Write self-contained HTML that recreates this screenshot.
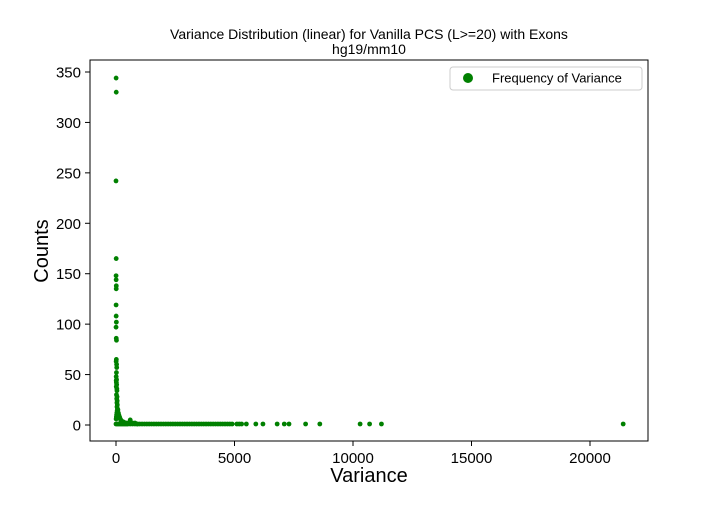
<!DOCTYPE html>
<html><head><meta charset="utf-8"><style>
body{margin:0;background:#fff;font-family:"Liberation Sans",sans-serif}
</style></head><body>
<svg id="chart" width="720" height="504" xmlns="http://www.w3.org/2000/svg" font-family="Liberation Sans, sans-serif">
<rect width="720" height="504" fill="#fff"/>
<text x="369" y="39" text-anchor="middle" font-size="14">Variance Distribution (linear) for Vanilla PCS (L&gt;=20) with Exons</text>
<text x="369" y="54" text-anchor="middle" font-size="14">hg19/mm10</text>
<g id="marks"></g>
<rect x="90" y="60" width="558" height="381" fill="none" stroke="#000" stroke-width="1"/>
<g id="xticks"></g><g id="yticks"></g>
<text x="369" y="482" text-anchor="middle" font-size="20">Variance</text>
<text transform="translate(48,251) rotate(-90)" text-anchor="middle" font-size="20">Counts</text>
<g>
<rect x="450" y="67" width="192" height="23" rx="3" fill="#fff" stroke="#ccc"/>
<circle cx="468" cy="78" r="5" fill="#008000"/>
<text x="492" y="82.5" font-size="13">Frequency of Variance</text>
</g>
</svg>
<script>
const spikeX=[5,10,0,8,3,6,12,9,4,7,15,2,11,20,14,6,25,30,18,8,22,10,16,28,12,35,40,20,45,30,50,38,55,42,60,48,35,25,15,5];
const spikeY=[344,330,242,165,148,144,138,135,119,108,102,97,86,84,65,63,60,57,52,48,45,44,42,40,38,36,34,30,28,26,24,22,20,18,16,14,12,10,8,6];
const tailX=[80,100,120,150,180,200,240,280,320,380,450,520,600,700,800,900];
const tailY=[15,12,10,8,6,5,4,3,3,2,2,2,5,2,2,1];
const oneX=[0,50,100,150,200,250,300,350,400,450,500,600,700,800,900,1000,1100,1200,1300,1400,1500,1600,1700,1800,1900,2000,2100,2200,2300,2400,2500,2600,2700,2800,2900,3000,3100,3200,3300,3400,3500,3600,3700,3800,3900,4000,4100,4200,4300,4400,4500,4600,4700,4800,4900,5100,5200,5300,5500,5900,6200,6800,7100,7300,8000,8600,10300,10700,11200,21400];
const xTicks=[0,5000,10000,15000,20000];
const yTicks=[0,50,100,150,200,250,300,350];
const xs=v=>116+v*474/20000, ys=v=>425-v*353/350;
const NS="http://www.w3.org/2000/svg";
const marks=document.getElementById('marks');
function dot(x,y){const c=document.createElementNS(NS,'circle');c.setAttribute('cx',xs(x));c.setAttribute('cy',ys(y));c.setAttribute('r',2.4);c.setAttribute('fill','#008000');


marks.appendChild(c);}
oneX.forEach(x=>dot(x,1));
tailX.forEach((x,i)=>dot(x,tailY[i]));
spikeX.forEach((x,i)=>dot(x,spikeY[i]));
const xt=document.getElementById('xticks');
xTicks.forEach(v=>{const l=document.createElementNS(NS,'line');l.setAttribute('x1',xs(v));l.setAttribute('x2',xs(v));l.setAttribute('y1',441);l.setAttribute('y2',446);l.setAttribute('stroke','#000');


xt.appendChild(l);
const t=document.createElementNS(NS,'text');t.setAttribute('x',xs(v));t.setAttribute('y',463);t.setAttribute('text-anchor','middle');t.setAttribute('font-size','15');t.textContent=v;


xt.appendChild(t);});
const yt=document.getElementById('yticks');
yTicks.forEach(v=>{const l=document.createElementNS(NS,'line');l.setAttribute('x1',85);l.setAttribute('x2',90);l.setAttribute('y1',ys(v));l.setAttribute('y2',ys(v));l.setAttribute('stroke','#000');


yt.appendChild(l);
const t=document.createElementNS(NS,'text');t.setAttribute('x',81);t.setAttribute('y',ys(v)+5.5);t.setAttribute('text-anchor','end');t.setAttribute('font-size','15');t.textContent=v;


yt.appendChild(t);});
</script>
</body></html>
